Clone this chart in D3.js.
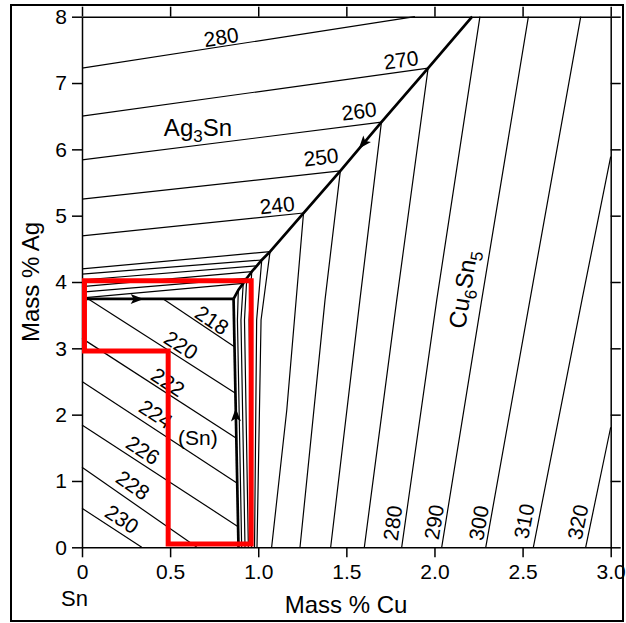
<!DOCTYPE html>
<html><head><meta charset="utf-8">
<script src="https://cdn.jsdelivr.net/npm/d3@7"></script>
<style>
html,body{margin:0;padding:0;background:#fff;}
svg{display:block;font-family:"Liberation Sans",Arial,Helvetica,sans-serif;}
</style></head><body>
<svg id="chart" width="626" height="623"></svg>
<script>
// ---------- data (mass % Cu, mass % Ag) ----------
const xTicks = [0, 0.5, 1.0, 1.5, 2.0, 2.5, 3.0];
const xTickLabels = ["0", "0.5", "1.0", "1.5", "2.0", "2.5", "3.0"];
const yTicks = [0, 1, 2, 3, 4, 5, 6, 7, 8];

// univariant valleys (thick lines)
const valleySnAg = [[0, 3.745], [0.860, 3.745]];
const valleySnCu = [[0.888, 0], [0.860, 3.745]];
const valleyAgCu = [[0.860, 3.745], [0.887, 3.879], [0.915, 3.98], [0.935, 4.056], [0.963, 4.155],
  [0.992, 4.243], [1.020, 4.332], [1.067, 4.457], [1.257, 5.04], [1.466, 5.676], [1.699, 6.41],
  [1.964, 7.225], [2.214, 8]];

// Ag3Sn liquidus isotherms
const ag3snTemps = [280, 270, 260, 250, 240];
const ag3snLines = [
  [[0, 7.225], [1.889, 8]],
  [[0, 6.50], [1.964, 7.225]],
  [[0, 5.84], [1.699, 6.41]],
  [[0, 5.25], [1.466, 5.676]],
  [[0, 4.695], [1.257, 5.04]]
];
const ag3snLabelPos = [[0.789, 7.694], [1.810, 7.35], [1.572, 6.578], [1.356, 5.885], [1.107, 5.161]];
const ag3snMinor = [
  [[0, 4.197], [1.067, 4.457]],
  [[0, 4.118], [1.020, 4.332]],
  [[0, 4.03], [0.992, 4.243]],
  [[0, 3.93], [0.963, 4.155]],
  [[0, 3.846], [0.935, 4.056]],
  [[0.02, 3.765], [0.915, 3.98]]
];

// (Sn) liquidus isotherms
const snTemps = [218, 220, 222, 224, 226, 228, 230];
const snLines = [
  [[0.461, 3.745], [0.865, 3.025]],
  [[0.036, 3.745], [0.871, 2.322]],
  [[0, 3.15], [0.876, 1.643]],
  [[0, 2.50], [0.881, 0.965]],
  [[0, 1.845], [0.886, 0.311]],
  [[0, 1.207], [0.652, 0]],
  [[0, 0.588], [0.339, 0]]
];
const snLabelPos = [[0.738, 3.427], [0.562, 3.05], [0.488, 2.492], [0.420, 2.01], [0.346, 1.467], [0.289, 0.94], [0.227, 0.427]];

// Cu6Sn5 liquidus isotherms
const cuTemps = [240, 250, 260, 270, 280, 290, 300, 310, 320];
const cuLines = [
  [[1.257, 5.04], [1.162, 2.071], [1.076, 0]],
  [[1.466, 5.676], [1.379, 3.731], [1.237, 0]],
  [[1.699, 6.41], [1.577, 3.731], [1.411, 0]],
  [[1.964, 7.225], [1.786, 3.731], [1.602, 0]],
  [[2.258, 8], [2.013, 3.731], [1.814, 0]],
  [[2.533, 8], [2.268, 3.731], [2.041, 0]],
  [[2.830, 8], [2.542, 3.731], [2.291, 0]],
  [[3, 5.889], [2.837, 3.731], [2.561, 0]],
  [[3, 1.81], [2.858, 0]]
];
const cuLabelTemps = [280, 290, 300, 310, 320];
const cuLabelPos = [[1.762, 0.366], [1.997, 0.381], [2.250, 0.366], [2.508, 0.396], [2.812, 0.381]];
const cuMinor = [
  [[0.887, 3.879], [0.882, 3.428], [0.906, 0]],
  [[0.915, 3.98], [0.902, 3.428], [0.925, 0]],
  [[0.935, 4.056], [0.922, 3.428], [0.944, 0]],
  [[0.963, 4.155], [0.948, 3.428], [0.962, 0]],
  [[1.020, 4.332], [0.991, 3.428], [0.979, 0]],
  [[1.067, 4.457], [1.016, 3.428], [0.993, 0]]
];

// arrows on valleys: [x, y, which valley]
const arrowPos = [[0.31, 3.745, "SnAg"], [0.873, 1.99, "SnCu"], [1.596, 6.09, "AgCu"]];

// phase field labels
const phaseLabels = [
  {base: ["Ag", "3", "Sn"], pos: [0.658, 6.333], rot: 0},
  {base: ["Cu", "6", "Sn", "5"], pos: [2.160, 3.893], rot: -81},
  {base: ["(Sn)"], pos: [0.658, 1.663], rot: 0}
];

// highlighted region (red outline)
const highlight = [[0.014, 4.02], [0.96, 4.02], [0.96, 0.05], [0.489, 0.05], [0.489, 2.96], [0.014, 2.96]];

// ---------- drawing ----------
const svg = d3.select("#chart");
const L = 82, R = 610.7, T = 16.7, B = 547.3;
const x = d3.scaleLinear().domain([0, 3]).range([L, R]);
const y = d3.scaleLinear().domain([0, 8]).range([B, T]);
const line = d3.line().x(d => x(d[0])).y(d => y(d[1]));

// outer frame
svg.append("rect").attr("x", 11).attr("y", 5).attr("width", 612).attr("height", 616)
  .attr("fill", "none").attr("stroke", "#000").attr("stroke-width", 2);

// axes
function styleAxis(g) {
  g.selectAll("path.domain").attr("stroke", "#000").attr("stroke-width", 1.5);
  g.selectAll(".tick line").attr("stroke", "#000").attr("stroke-width", 1.5);
  g.selectAll("text").attr("font-size", 21).attr("fill", "#000")
    .attr("font-family", '"Liberation Sans",Arial,sans-serif');
}
svg.append("g").attr("transform", `translate(0,${B})`)
  .call(d3.axisBottom(x).tickValues(xTicks).tickFormat((d, i) => xTickLabels[i]).tickSize(10).tickSizeOuter(0).tickPadding(7))
  .call(styleAxis);
svg.append("g").attr("transform", `translate(0,${T})`)
  .call(d3.axisTop(x).tickValues(xTicks).tickFormat("").tickSize(10).tickSizeOuter(0))
  .call(styleAxis);
svg.append("g").attr("transform", `translate(${L},0)`)
  .call(d3.axisLeft(y).tickValues(yTicks).tickFormat(d3.format("d")).tickSize(10).tickSizeOuter(0).tickPadding(5))
  .call(styleAxis);
svg.append("g").attr("transform", `translate(${R},0)`)
  .call(d3.axisRight(y).tickValues(yTicks).tickFormat("").tickSize(10).tickSizeOuter(0))
  .call(styleAxis);
svg.selectAll("g").attr("font-family", null);

// axis titles
svg.append("text").attr("transform", `translate(31,282) rotate(-90)`)
  .attr("text-anchor", "middle").attr("dy", "0.35em").attr("font-size", 24).text("Mass % Ag");
svg.append("text").attr("x", 346).attr("y", 613).attr("text-anchor", "middle")
  .attr("font-size", 24).text("Mass % Cu");
svg.append("text").attr("x", 61).attr("y", 606).attr("font-size", 22).text("Sn");

// isotherms
const thin = svg.append("g").attr("fill", "none").attr("stroke", "#000").attr("stroke-width", 1.2);
[ag3snLines, ag3snMinor, snLines, cuLines, cuMinor].forEach(set => {
  set.forEach(pts => thin.append("path").attr("d", line(pts)));
});

// valleys
const thick = svg.append("g").attr("fill", "none").attr("stroke", "#000").attr("stroke-width", 2.7)
  .attr("stroke-linejoin", "round");
const valleys = {SnAg: valleySnAg, SnCu: valleySnCu, AgCu: valleyAgCu};
[valleySnAg, valleySnCu, valleyAgCu].forEach(pts => thick.append("path").attr("d", line(pts)));

// arrows (pointing toward the ternary eutectic)
arrowPos.forEach(([ax, ay, key]) => {
  const pts = valleys[key];
  const e = key === "AgCu" ? pts[0] : pts[1];
  const s = key === "AgCu" ? pts[pts.length - 1] : pts[0];
  const ang = Math.atan2(y(e[1]) - y(s[1]), x(e[0]) - x(s[0])) * 180 / Math.PI;
  svg.append("path").attr("d", "M7,0 L-6,-5 L-3,0 L-6,5 Z").attr("fill", "#000")
    .attr("transform", `translate(${x(ax)},${y(ay)}) rotate(${ang})`);
});

// isotherm labels
function angleOf(p, q) {
  return Math.atan2(y(q[1]) - y(p[1]), x(q[0]) - x(p[0])) * 180 / Math.PI;
}
const lab = svg.append("g").attr("font-size", 21).attr("text-anchor", "middle");
ag3snTemps.forEach((t, i) => {
  const pts = ag3snLines[i];
  const a = angleOf(pts[0], pts[pts.length - 1]);
  lab.append("text").attr("transform", `translate(${x(ag3snLabelPos[i][0])},${y(ag3snLabelPos[i][1])}) rotate(${a})`)
    .attr("dy", "0.36em").text(t);
});
snTemps.forEach((t, i) => {
  const pts = snLines[i];
  const a = angleOf(pts[0], pts[pts.length - 1]);
  lab.append("text").attr("transform", `translate(${x(snLabelPos[i][0])},${y(snLabelPos[i][1])}) rotate(${a})`)
    .attr("dy", "0.36em").text(t);
});
cuLabelTemps.forEach((t, i) => {
  const pts = cuLines[cuTemps.indexOf(t)];
  const n = pts.length;
  const a = angleOf(pts[n - 1], pts[n - 2]);
  lab.append("text").attr("transform", `translate(${x(cuLabelPos[i][0])},${y(cuLabelPos[i][1])}) rotate(${a})`)
    .attr("dy", "0.36em").text(t);
});

// phase labels
phaseLabels.forEach(p => {
  const big = p.base.length > 1 ? 24 : 21;
  const txt = svg.append("text").attr("text-anchor", "middle").attr("font-size", big)
    .attr("transform", `translate(${x(p.pos[0])},${y(p.pos[1])}) rotate(${p.rot})`)
    .attr("dy", "0.36em");
  p.base.forEach((s, j) => {
    const isSub = /^\d$/.test(s);
    const prevSub = j > 0 && /^\d$/.test(p.base[j - 1]);
    const ts = txt.append("tspan").text(s);
    if (isSub) ts.attr("font-size", 17).attr("dy", 6);
    else if (prevSub) ts.attr("dy", -6);
  });
});

// red highlight outline
svg.append("path").attr("d", line(highlight) + "Z").attr("fill", "none")
  .attr("stroke", "#ff0000").attr("stroke-width", 5).attr("stroke-linejoin", "miter");
</script>
</body></html>
